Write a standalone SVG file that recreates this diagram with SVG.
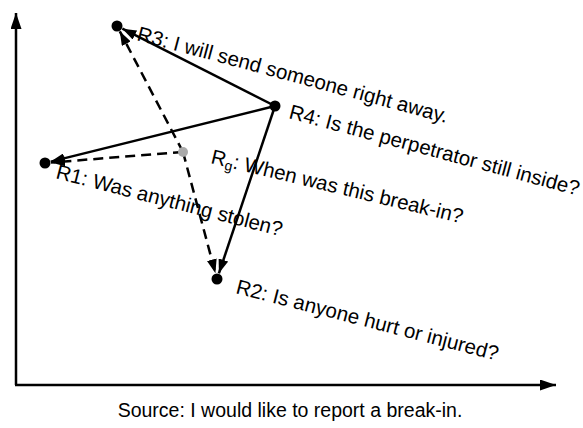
<svg xmlns="http://www.w3.org/2000/svg" width="583" height="428" viewBox="0 0 583 428">
<style>
  .ax { stroke:#000; stroke-width:2.5; fill:none; }
  .sol { stroke:#000; stroke-width:2.5; fill:none; marker-end:url(#ah); }
  .dash { stroke:#000; stroke-width:2.5; fill:none; stroke-dasharray:10 6; marker-end:url(#ah); }
  .nd { fill:#000; }
  .gnd { fill:#aaa; }
  text { font-family:"Liberation Sans", Helvetica, Arial, sans-serif; font-size:20.5px; fill:#000; }
  .src { font-size:19.5px; }
</style>
<defs>
  <marker id="ah" markerWidth="14" markerHeight="10" refX="14" refY="5" orient="auto" markerUnits="userSpaceOnUse">
    <path d="M0,0 L14,5 L0,10 z" fill="#000"/>
  </marker>
  <marker id="axh" markerWidth="16" markerHeight="11" refX="16" refY="5.5" orient="auto" markerUnits="userSpaceOnUse">
    <path d="M0,0 L16,5.5 L0,11 z" fill="#000"/>
  </marker>
</defs>
<g id="axes">
  <path class="ax" d="M16,385 L16,13" marker-end="url(#axh)"/>
  <path class="ax" d="M15,385 L556,385" marker-end="url(#axh)"/>
</g>
<g id="connectors">
  <line class="sol" x1="275" y1="106" x2="122.4" y2="28.7"/>
  <line class="sol" x1="275" y1="106" x2="50.8" y2="161.6"/>
  <line class="sol" x1="275" y1="106" x2="218.9" y2="273.3"/>
  <line class="dash" x1="183" y1="152" x2="119.8" y2="31.3"/>
  <line class="dash" x1="183" y1="152" x2="51" y2="162.5"/>
  <line class="dash" x1="183" y1="152" x2="215.4" y2="273.2"/>
</g>
<g id="R3">
  <circle class="nd" cx="117" cy="26" r="5.5"/>
  <text transform="translate(136,40) rotate(15)">R3: I will send someone right away.</text>
</g>
<g id="R4">
  <circle class="nd" cx="275" cy="106" r="5.5"/>
  <text transform="translate(288,118) rotate(15)">R4: Is the perpetrator still inside?</text>
</g>
<g id="Rg">
  <circle class="gnd" cx="183" cy="152" r="5"/>
  <text transform="translate(210,163) rotate(13.5)">R<tspan font-size="14" dy="3">g</tspan><tspan dy="-3">: When was this break-in?</tspan></text>
</g>
<g id="R1">
  <circle class="nd" cx="45" cy="163" r="5.5"/>
  <text transform="translate(55,178) rotate(14.5)">R1: Was anything stolen?</text>
</g>
<g id="R2">
  <circle class="nd" cx="217" cy="279" r="5.5"/>
  <text transform="translate(235,293) rotate(14.5)">R2: Is anyone hurt or injured?</text>
</g>
<g id="source">
  <text class="src" x="290" y="417" text-anchor="middle">Source: I would like to report a break-in.</text>
</g>
</svg>
